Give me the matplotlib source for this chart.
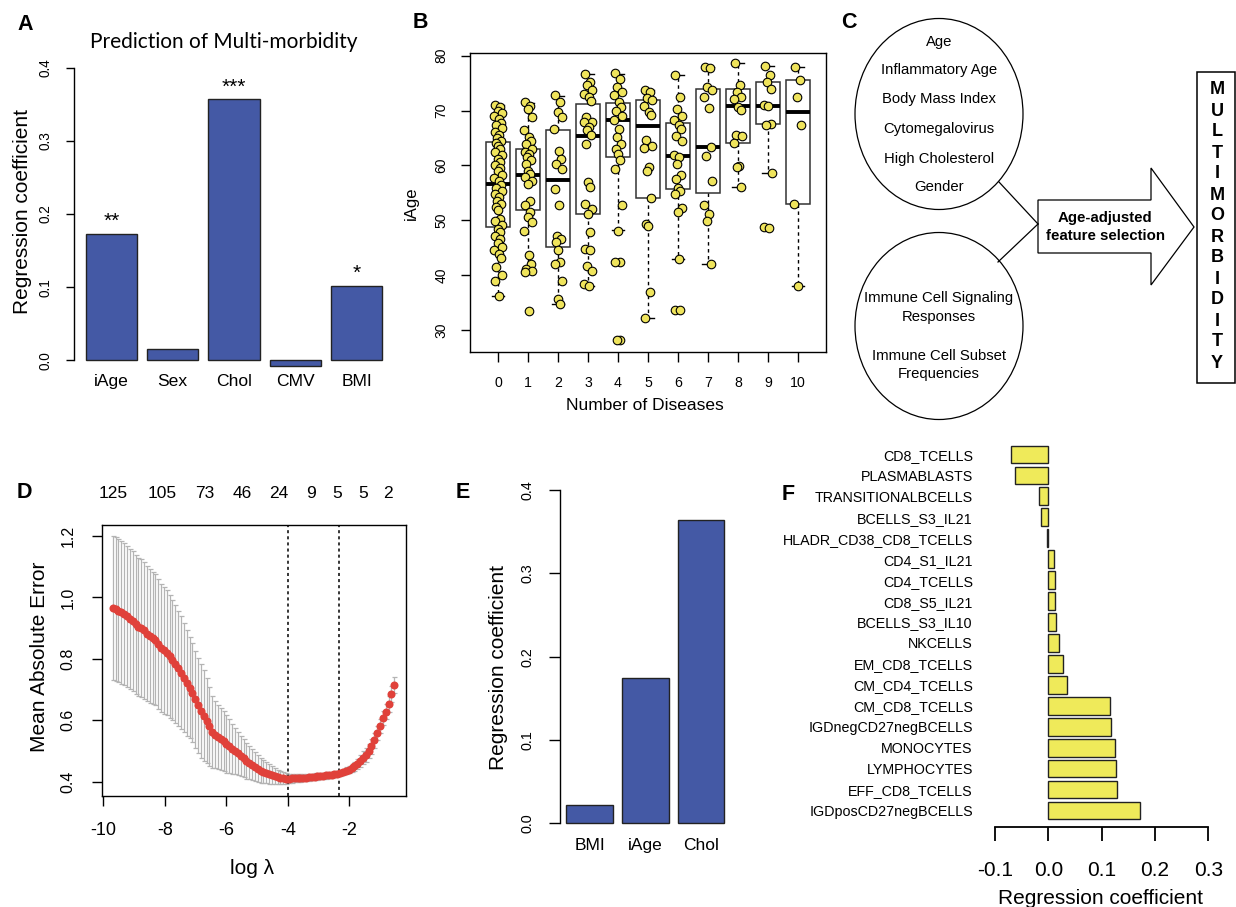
import numpy as np
import matplotlib
matplotlib.use('Agg')
import matplotlib.pyplot as plt
from matplotlib.patches import Ellipse, Polygon, Rectangle

W, H = 1236, 907
plt.rcParams['font.family'] = ['Liberation Sans', 'DejaVu Sans']
plt.rcParams['axes.linewidth'] = 1.0
plt.rcParams['axes.unicode_minus'] = False

blue = '#4459A5'
yellow_pts = '#EFE45C'
yellow_bar = '#EFEA5A'

# ---- panel A data
a_names = ['iAge', 'Sex', 'Chol', 'CMV', 'BMI']
a_coef = [0.173, 0.0155, 0.357, -0.0078, 0.102]
a_stars = ['**', '', '***', '', '*']

# ---- panel B data (iAge by number of diseases)
b_groups = ['0', '1', '2', '3', '4', '5', '6', '7', '8', '9', '10']
b_med = [56.6, 58.3, 57.3, 65.3, 68.3, 67.1, 61.7, 63.4, 70.8, 70.9, 69.8]
b_q1 = [48.7, 51.9, 45.1, 51.1, 61.5, 54.1, 55.7, 55.0, 64.1, 67.5, 53.0]
b_q3 = [64.2, 63.0, 66.5, 71.2, 71.4, 72.0, 67.8, 73.9, 74.0, 75.3, 75.6]
b_lo = [36.2, 40.6, 34.7, 38.1, 48.2, 32.1, 43.0, 42.0, 56.0, 58.6, 38.0]
b_hi = [71.0, 71.4, 72.7, 76.6, 76.7, 73.7, 76.5, 77.9, 78.7, 78.1, 78.0]
b_pts = [
    [71.0, 70.6, 70.0, 69.6, 69.0, 68.4, 67.8, 67.3, 66.8, 66.1, 65.5, 65.0, 64.5, 64.1,
     63.6, 63.0, 62.4, 61.9, 61.2, 60.7, 60.1, 59.5, 58.9, 58.3, 57.7, 57.1, 56.5, 55.9,
     55.3, 54.8, 54.2, 53.6, 53.0, 52.5, 51.8, 50.3, 49.8, 49.2, 48.4, 47.8, 47.1, 46.5,
     45.9, 45.2, 44.6, 43.9, 43.2, 41.5, 40.0, 39.0, 36.2],
    [71.5, 70.9, 70.3, 68.8, 66.4, 65.2, 64.4, 63.9, 63.0, 62.5, 62.1, 61.5, 60.9, 60.3,
     58.9, 58.5, 57.9, 57.2, 56.6, 53.6, 52.7, 51.5, 50.6, 49.7, 48.1, 43.6, 42.0, 41.2,
     40.8, 40.6, 33.5],
    [72.9, 71.5, 69.7, 68.8, 66.7, 62.7, 61.2, 60.3, 59.4, 55.7, 52.7, 47.2, 46.6, 46.0,
     44.5, 42.4, 42.0, 39.0, 35.7, 34.7],
    [76.7, 75.2, 74.6, 73.7, 73.1, 72.5, 71.8, 68.8, 68.0, 67.9, 67.0, 66.4, 65.5, 63.9,
     57.0, 56.0, 53.0, 52.1, 51.2, 47.8, 44.8, 44.5, 41.7, 40.8, 38.4, 38.0],
    [76.9, 75.8, 74.3, 73.4, 72.8, 71.5, 70.6, 70.0, 69.1, 68.2, 66.7, 65.2, 63.9, 63.0,
     62.1, 60.9, 59.4, 52.7, 48.1, 42.4, 42.3, 28.2, 28.1],
    [73.7, 73.3, 72.3, 71.9, 70.9, 69.8, 69.2, 64.7, 63.5, 63.2, 59.7, 58.9, 54.1, 49.3,
     48.9, 37.0, 32.1],
    [76.5, 72.5, 70.3, 69.0, 68.2, 67.4, 66.6, 65.3, 64.4, 61.9, 61.5, 60.3, 58.3, 57.6,
     55.9, 55.4, 54.7, 52.2, 51.5, 43.0, 33.7, 33.6],
    [77.9, 77.8, 74.3, 73.7, 72.5, 70.5, 63.3, 61.7, 57.1, 52.8, 51.2, 49.9, 42.0],
    [78.7, 74.6, 73.4, 72.5, 72.2, 70.6, 70.1, 65.6, 65.3, 64.1, 59.9, 59.7, 56.0],
    [78.1, 76.5, 75.3, 73.9, 71.1, 70.9, 67.6, 67.4, 58.6, 48.7, 48.6],
    [78.0, 75.6, 72.4, 67.4, 53.0, 38.0],
]
jitter = [-0.10, 0.06, -0.02, 0.12, -0.14, 0.02, 0.09, -0.06, 0.14, -0.12,
          0.04, -0.04, 0.11, -0.08, 0.0, 0.07, -0.11, 0.13, -0.01, 0.05]

# ---- panel C text
c_top = ['Age', 'Inflammatory Age', 'Body Mass Index', 'Cytomegalovirus',
         'High Cholesterol', 'Gender']
c_bottom = ['Immune Cell Signaling', 'Responses', 'Immune Cell Subset', 'Frequencies']
c_target = 'MULTIMORBIDITY'

# ---- panel D data (cv lasso curve)
d_loglam = np.linspace(-9.69, -0.54, 100)
d_mean = [0.966, 0.962, 0.957, 0.951, 0.945, 0.938, 0.930, 0.922, 0.912, 0.905,
          0.900, 0.893, 0.882, 0.874, 0.868, 0.862, 0.848, 0.836, 0.828, 0.820,
          0.808, 0.796, 0.783, 0.769, 0.754, 0.738, 0.722, 0.706, 0.690, 0.668,
          0.648, 0.630, 0.614, 0.598, 0.580, 0.562, 0.553, 0.546, 0.538, 0.531,
          0.523, 0.515, 0.507, 0.500, 0.492, 0.484, 0.476, 0.468, 0.462, 0.455,
          0.448, 0.442, 0.436, 0.432, 0.429, 0.425, 0.421, 0.418, 0.415, 0.413,
          0.411, 0.410, 0.410, 0.411, 0.411, 0.412, 0.412, 0.413, 0.413, 0.414,
          0.415, 0.416, 0.417, 0.418, 0.419, 0.420, 0.421, 0.422, 0.424, 0.426,
          0.428, 0.431, 0.435, 0.439, 0.444, 0.450, 0.458, 0.467, 0.477, 0.488,
          0.500, 0.515, 0.535, 0.557, 0.582, 0.606, 0.628, 0.653, 0.685, 0.715]
d_se = [0.235, 0.234, 0.233, 0.232, 0.231, 0.230, 0.229, 0.228, 0.226, 0.225,
        0.224, 0.223, 0.221, 0.219, 0.216, 0.213, 0.211, 0.209, 0.207, 0.204,
        0.200, 0.196, 0.192, 0.188, 0.184, 0.178, 0.172, 0.165, 0.160, 0.157,
        0.156, 0.154, 0.148, 0.138, 0.128, 0.118, 0.110, 0.105, 0.101, 0.098,
        0.094, 0.088, 0.082, 0.076, 0.071, 0.066, 0.062, 0.058, 0.055, 0.051,
        0.047, 0.044, 0.041, 0.038, 0.035, 0.032, 0.029, 0.026, 0.023, 0.021,
        0.019, 0.017, 0.016, 0.015, 0.014, 0.013, 0.013, 0.012, 0.012, 0.012,
        0.011, 0.011, 0.011, 0.011, 0.010, 0.010, 0.010, 0.010, 0.010, 0.010,
        0.010, 0.011, 0.011, 0.012, 0.013, 0.015, 0.017, 0.019, 0.021, 0.023,
        0.024, 0.024, 0.024, 0.023, 0.023, 0.023, 0.024, 0.025, 0.025, 0.025]
d_top_pos = [-9.685, -8.09, -6.69, -5.49, -4.29, -3.245, -2.40, -1.56, -0.746]
d_top_lab = ['125', '105', '73', '46', '24', '9', '5', '5', '2']
d_vlines = [-4.0, -2.33]

# ---- panel E data
e_names = ['BMI', 'iAge', 'Chol']
e_coef = [0.022, 0.1744, 0.364]

# ---- panel F data
f_names = ['CD8_TCELLS', 'PLASMABLASTS', 'TRANSITIONALBCELLS', 'BCELLS_S3_IL21',
           'HLADR_CD38_CD8_TCELLS', 'CD4_S1_IL21', 'CD4_TCELLS', 'CD8_S5_IL21',
           'BCELLS_S3_IL10', 'NKCELLS', 'EM_CD8_TCELLS', 'CM_CD4_TCELLS',
           'CM_CD8_TCELLS', 'IGDnegCD27negBCELLS', 'MONOCYTES', 'LYMPHOCYTES',
           'EFF_CD8_TCELLS', 'IGDposCD27negBCELLS']
f_coef = [-0.0694, -0.0631, -0.0169, -0.0144, -0.002, 0.0106, 0.0131, 0.0131,
          0.0144, 0.020, 0.028, 0.0356, 0.1156, 0.1175, 0.125, 0.1269, 0.1288, 0.1725]

fig = plt.figure(figsize=(W / 100, H / 100), dpi=100)


def axes_px(x0, y0, x1, y1):
    return fig.add_axes([x0 / W, 1 - y1 / H, (x1 - x0) / W, (y1 - y0) / H])


def text_px(x, y, s, **kw):
    fig.text(x / W, 1 - y / H, s, **kw)


def panel_letter(x, y, s):
    text_px(x, y, s, ha='center', va='center', fontsize=15.5, fontweight='bold')


# ================= A
ax = axes_px(74, 56, 394, 372)
pos = 0.7 + 1.2 * np.arange(len(a_names))
ax.bar(pos, a_coef, width=1, color=blue, edgecolor='#222222', linewidth=1)
for p, c, s in zip(pos, a_coef, a_stars):
    if s:
        ax.annotate(s, (p, c), xytext=(0, 2), textcoords='offset points',
                    ha='center', va='bottom', fontsize=15)
ax.set_xlim(-0.032, 6.232)
ax.set_ylim(-0.016, 0.416)
for s in ['top', 'right', 'bottom']:
    ax.spines[s].set_visible(False)
ax.spines['left'].set_bounds(0, 0.4)
ax.set_yticks([0, 0.1, 0.2, 0.3, 0.4], ['0.0', '0.1', '0.2', '0.3', '0.4'])
ax.tick_params(axis='y', length=5.8, width=1, labelsize=9.8, pad=9.4, labelrotation=90)
for t in ax.get_yticklabels():
    t.set_va('center')
ax.set_xticks(pos, a_names)
ax.tick_params(axis='x', length=0, labelsize=12.6, pad=1.5)
text_px(224, 42, 'Prediction of Multi-morbidity', ha='center', va='center',
        fontsize=15, family=['Lato', 'DejaVu Sans'])
text_px(23, 212, 'Regression coefficient', ha='center', va='center', rotation=90, fontsize=15)
panel_letter(25, 25, 'A')

# ================= B
ax = axes_px(470, 53, 826, 352)
stats = []
for i in range(len(b_groups)):
    stats.append(dict(med=b_med[i], q1=b_q1[i], q3=b_q3[i], whislo=b_lo[i],
                      whishi=b_hi[i], fliers=[]))
bpos = np.arange(1, len(b_groups) + 1)
ax.bxp(stats, positions=bpos, widths=0.8, showfliers=False, patch_artist=True,
       capwidths=0.4,
       boxprops=dict(facecolor='white', edgecolor='#333333', linewidth=1.1),
       medianprops=dict(color='black', linewidth=2.8, solid_capstyle='butt'),
       whiskerprops=dict(color='black', linewidth=1, linestyle=(0, (2.5, 2.5))),
       capprops=dict(color='black', linewidth=1))
for i, vals in enumerate(b_pts):
    xs = [bpos[i] + jitter[k % len(jitter)] for k in range(len(vals))]
    ax.scatter(xs, vals, s=38, color=yellow_pts, edgecolors='black', linewidths=0.8,
               zorder=5)
ax.set_xlim(0.06, 11.94)
ax.set_ylim(25.98, 80.5)
ax.set_yticks([30, 40, 50, 60, 70, 80])
ax.tick_params(axis='y', length=6.5, width=1, labelsize=10, pad=9, labelrotation=90)
for t in ax.get_yticklabels():
    t.set_va('center')
ax.set_xticks(bpos, b_groups)
ax.tick_params(axis='x', length=7, width=1, labelsize=10.2, pad=10)
text_px(411, 203, 'iAge', ha='center', va='center', rotation=90, fontsize=12)
text_px(645, 406, 'Number of Diseases', ha='center', va='center', fontsize=12.5)
panel_letter(420, 22, 'B')

# ================= C
ax = axes_px(830, 0, 1236, 420)
ax.set_xlim(830, 1236)
ax.set_ylim(420, 0)
ax.axis('off')
ax.add_patch(Ellipse((939, 114), 168, 191, fill=False, ec='black', lw=0.9))
ax.add_patch(Ellipse((939, 326), 168, 187, fill=False, ec='black', lw=0.9, clip_on=False))
ax.plot([999, 1038], [182, 224], color='black', lw=0.9)
ax.plot([998, 1038], [262, 224], color='black', lw=0.9)
ax.add_patch(Polygon([(1038, 200), (1151, 200), (1151, 168), (1194, 227),
                      (1151, 285), (1151, 253), (1038, 253)],
                     closed=True, fill=False, ec='black', lw=0.9))
ax.add_patch(Rectangle((1197, 72), 38, 311, fill=False, ec='black', lw=1.1, clip_on=False))
for s, y in zip(c_top, [42, 70, 99, 129, 159, 187]):
    ax.text(939, y, s, ha='center', va='center', fontsize=10.7)
for s, y in zip(c_bottom, [298, 317, 356, 374]):
    ax.text(939, y, s, ha='center', va='center', fontsize=10.7)
ax.text(1105, 218, 'Age-adjusted', ha='center', va='center', fontsize=10.8, fontweight='bold')
ax.text(1105, 236, 'feature selection', ha='center', va='center', fontsize=10.8,
        fontweight='bold')
ly = np.linspace(90, 363, len(c_target))
for ch, y in zip(c_target, ly):
    ax.text(1217, y, ch, ha='center', va='center', fontsize=13, fontweight='bold')
panel_letter(849, 22, 'C')

# ================= D
ax = axes_px(102, 525, 406, 796)
ax.errorbar(d_loglam, d_mean, yerr=d_se, fmt='none', ecolor='#b4b4b4',
            elinewidth=0.9, capsize=1.8, capthick=0.9)
ax.plot(d_loglam, d_mean, 'o', color='#E0413A', ms=5.8, mec='none', zorder=4)
for v in d_vlines:
    ax.axvline(v, color='black', lw=1.1, ls=(0, (2, 2)))
ax.set_xlim(-10.04, -0.156)
ax.set_ylim(0.353, 1.236)
ax.set_xticks([-10, -8, -6, -4, -2])
ax.set_yticks([0.4, 0.6, 0.8, 1.0, 1.2], ['0.4', '0.6', '0.8', '1.0', '1.2'])
ax.tick_params(axis='y', length=7, width=1, labelsize=11.5, pad=12, labelrotation=90)
for t in ax.get_yticklabels():
    t.set_va('center')
ax.tick_params(axis='x', length=7, width=1, labelsize=13, pad=11.5)
for p, s in zip(d_top_pos, d_top_lab):
    ax.text(p, 1.118, s, transform=ax.get_xaxis_transform(), ha='center', va='center',
            fontsize=12.5)
text_px(40, 657, 'Mean Absolute Error', ha='center', va='center', rotation=90, fontsize=15)
text_px(252, 868, 'log \u03bb', ha='center', va='center', fontsize=15)
panel_letter(24, 493, 'D')

# ================= E
ax = axes_px(560, 476.7, 730.6, 836.6)
epos = 0.7 + 1.2 * np.arange(len(e_names))
ax.bar(epos, e_coef, width=1, color=blue, edgecolor='#222222', linewidth=1)
ax.set_xlim(0.064, 3.736)
ax.set_ylim(-0.016, 0.416)
for s in ['top', 'right', 'bottom']:
    ax.spines[s].set_visible(False)
ax.spines['left'].set_bounds(0, 0.4)
ax.set_yticks([0, 0.1, 0.2, 0.3, 0.4], ['0.0', '0.1', '0.2', '0.3', '0.4'])
ax.tick_params(axis='y', length=8, width=1, labelsize=10.4, pad=10, labelrotation=90)
for t in ax.get_yticklabels():
    t.set_va('center')
ax.set_xticks(epos, e_names)
ax.tick_params(axis='x', length=0, labelsize=12.5, pad=1)
text_px(498, 667, 'Regression coefficient', ha='center', va='center', rotation=90,
        fontsize=15)
panel_letter(463, 493, 'E')

# ================= F
ax = axes_px(995, 440, 1208.3, 826.7)
n = len(f_names)
fpos = np.arange(n)[::-1]
ax.barh(fpos, f_coef, height=0.83, color=yellow_bar, edgecolor='#222222', linewidth=1)
ax.set_xlim(-0.1, 0.3)
ax.set_ylim(-0.763, 17.68)
for s in ['top', 'right', 'left']:
    ax.spines[s].set_visible(False)
ax.spines['bottom'].set_linewidth(1.3)
ax.set_yticks(fpos, f_names)
ax.tick_params(axis='y', length=0, labelsize=10.3, pad=16)
ax.set_xticks([-0.1, 0.0, 0.1, 0.2, 0.3])
ax.tick_params(axis='x', length=10, width=1.3, labelsize=15, pad=15)
text_px(1101, 898, 'Regression coefficient', ha='center', va='center', fontsize=15)
panel_letter(788, 494, 'F')

fig.savefig('out.png', dpi=100)
